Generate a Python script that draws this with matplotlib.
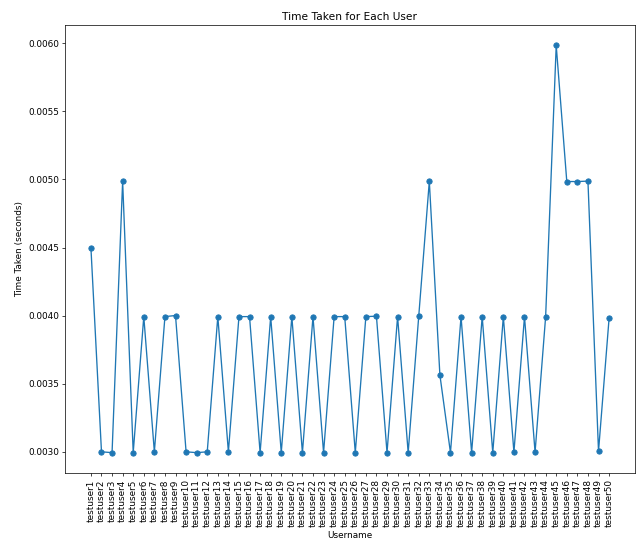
import matplotlib
matplotlib.use("Agg")
import matplotlib.pyplot as plt

usernames = [f"testuser{i}" for i in range(1, 51)]
time_taken = [
    0.00450, 0.002998, 0.002992, 0.004987, 0.002992, 0.003992, 0.002998, 0.003992, 0.004000, 0.002998,
    0.002992, 0.002998, 0.003992, 0.002998, 0.003992, 0.003992, 0.002992, 0.003992, 0.002992, 0.003992,
    0.002992, 0.003992, 0.002992, 0.003992, 0.003992, 0.002992, 0.003992, 0.003995, 0.002992, 0.003992,
    0.002992, 0.003995, 0.004987, 0.003563, 0.002992, 0.003992, 0.002992, 0.003992, 0.002992, 0.003992,
    0.002995, 0.003992, 0.002995, 0.003992, 0.005986, 0.004985, 0.004985, 0.004988, 0.003002, 0.003980,
]

fig = plt.figure(figsize=(10, 544/63.7), dpi=63.7)
ax = fig.add_axes([65/637, 1-473/544, (635-65)/637, (473-25)/544])
ax.plot(usernames, time_taken, marker="o")
ax.set_title("Time Taken for Each User")
ax.set_xlabel("Username")
ax.set_ylabel("Time Taken (seconds)")
plt.setp(ax.get_xticklabels(), rotation=90)
fig.savefig("out.png", dpi=63.7)
